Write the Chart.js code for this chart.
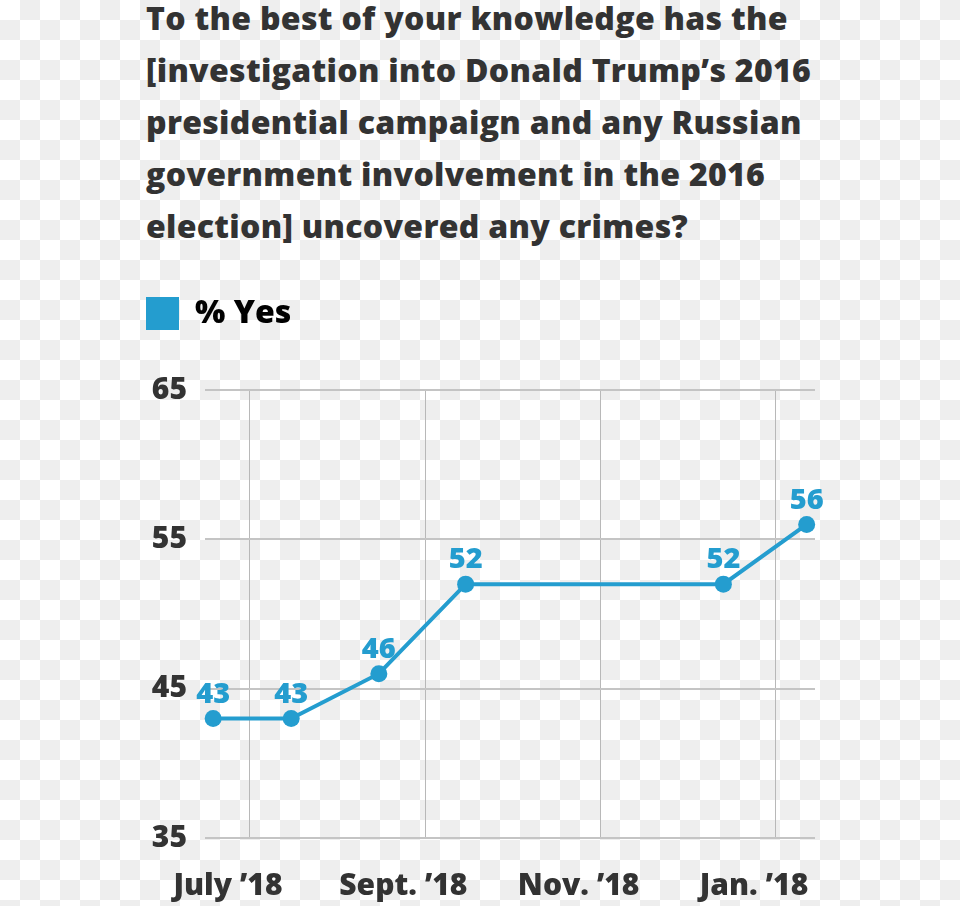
<!DOCTYPE html>
<html>
<head>
<meta charset="utf-8">
<script src="https://cdn.jsdelivr.net/npm/chart.js@4/dist/chart.umd.min.js"></script>
<style>
  html, body { margin: 0; padding: 0; }
  body {
    width: 960px; height: 906px; position: relative; overflow: hidden;
    /* transparent-PNG checkerboard */
    background: repeating-conic-gradient(#eeeeee 0% 25%, #ffffff 0% 50%) 0 0 / 40px 40px;
  }
  #title {
    position: absolute; left: 146px; top: -8px;
    font: 800 32px "Open Sans", Lato, sans-serif;
    letter-spacing: 0.3px;
    line-height: 52px; color: #333333; white-space: nowrap;
  }
  #wrap { position: absolute; left: 0; top: 280px; width: 960px; height: 626px; }
</style>
</head>
<body>
<div id="title">
  To the best of your knowledge has the<br>
  [investigation into Donald Trump’s 2016<br>
  presidential campaign and any Russian<br>
  government involvement in the 2016<br>
  election] uncovered any crimes?
</div>
<div id="wrap"><canvas id="chart" width="960" height="626"></canvas></div>
<script>
const BLUE = "#249dcf";
const INK = "#333333";
const FONT = "'Open Sans', Lato, sans-serif";

// poll dates as months since July 1 2018 (0 = July, 2 = Sept, ...)
const pollMonths = [-0.42, 0.47, 1.47, 2.46, 5.40, 6.35];
const yesValues = [43, 43, 46, 52, 52, 56];
const monthTicks = [0, 2, 4, 6];
const monthLabels = ["July ’18", "Sept. ’18", "Nov. ’18", "Jan. ’18"];
const yTicks = [35, 45, 55, 65];

// value labels above each point
const pointLabels = {
  id: "pointLabels",
  afterDatasetsDraw(chart) {
    const ctx = chart.ctx;
    const meta = chart.getDatasetMeta(0);
    ctx.save();
    ctx.font = "800 29px " + FONT;
    ctx.fillStyle = BLUE;
    ctx.textAlign = "center";
    ctx.textBaseline = "middle";
    meta.data.forEach((pt, i) => ctx.fillText(String(yesValues[i]), pt.x, pt.y - 24));
    ctx.restore();
  },
};

// leave room between the legend and the plot
const legendSpacer = {
  id: "legendSpacer",
  afterInit(chart) {
    const fit = chart.legend.fit;
    chart.legend.fit = function () {
      fit.call(this);
      this.height = 103;
    };
  },
};

new Chart(document.getElementById("chart").getContext("2d"), {
  type: "line",
  data: {
    datasets: [
      {
        label: "% Yes",
        data: pollMonths.map((m, i) => ({ x: m, y: yesValues[i] })),
        borderColor: BLUE,
        backgroundColor: BLUE,
        borderWidth: 4,
        pointRadius: 8.5,
        pointBorderWidth: 0,
        pointBackgroundColor: BLUE,
        tension: 0,
        clip: false,
      },
    ],
  },
  options: {
    responsive: false,
    animation: false,
    layout: { padding: { left: 136, right: 145, top: 7, bottom: 3 } },
    plugins: {
      tooltip: { enabled: false },
      legend: {
        position: "top",
        align: "start",
        labels: {
          boxWidth: 33,
          boxHeight: 33,
          padding: 10,
          color: INK,
          font: { family: FONT, size: 32, weight: 800 },
          generateLabels: () => [
            { text: "% Yes", fillStyle: BLUE, strokeStyle: BLUE, lineWidth: 0, datasetIndex: 0 },
          ],
        },
      },
    },
    scales: {
      x: {
        type: "linear",
        min: -0.513,
        max: 6.445,
        afterBuildTicks: (scale) => {
          scale.ticks = monthTicks.map((v) => ({ value: v }));
        },
        afterFit: (scale) => {
          scale.height = 65;
        },
        grid: { color: "#b8b8b8", lineWidth: 1, drawTicks: false },
        border: { display: false },
        ticks: {
          autoSkip: false,
          maxRotation: 0,
          labelOffset: -22,
          padding: 30,
          color: INK,
          font: { family: FONT, size: 30, weight: 800 },
          callback: (v) => monthLabels[monthTicks.indexOf(v)],
        },
      },
      y: {
        min: 35,
        max: 65,
        afterBuildTicks: (scale) => {
          scale.ticks = yTicks.map((v) => ({ value: v }));
        },
        afterFit: (scale) => {
          scale.width = 69;
        },
        grid: { color: "#c4c4c4", lineWidth: 2, drawTicks: false },
        border: { display: false },
        ticks: {
          padding: 18,
          color: INK,
          font: { family: FONT, size: 30, weight: 800 },
        },
      },
    },
  },
  plugins: [pointLabels, legendSpacer],
});
</script>
</body>
</html>
